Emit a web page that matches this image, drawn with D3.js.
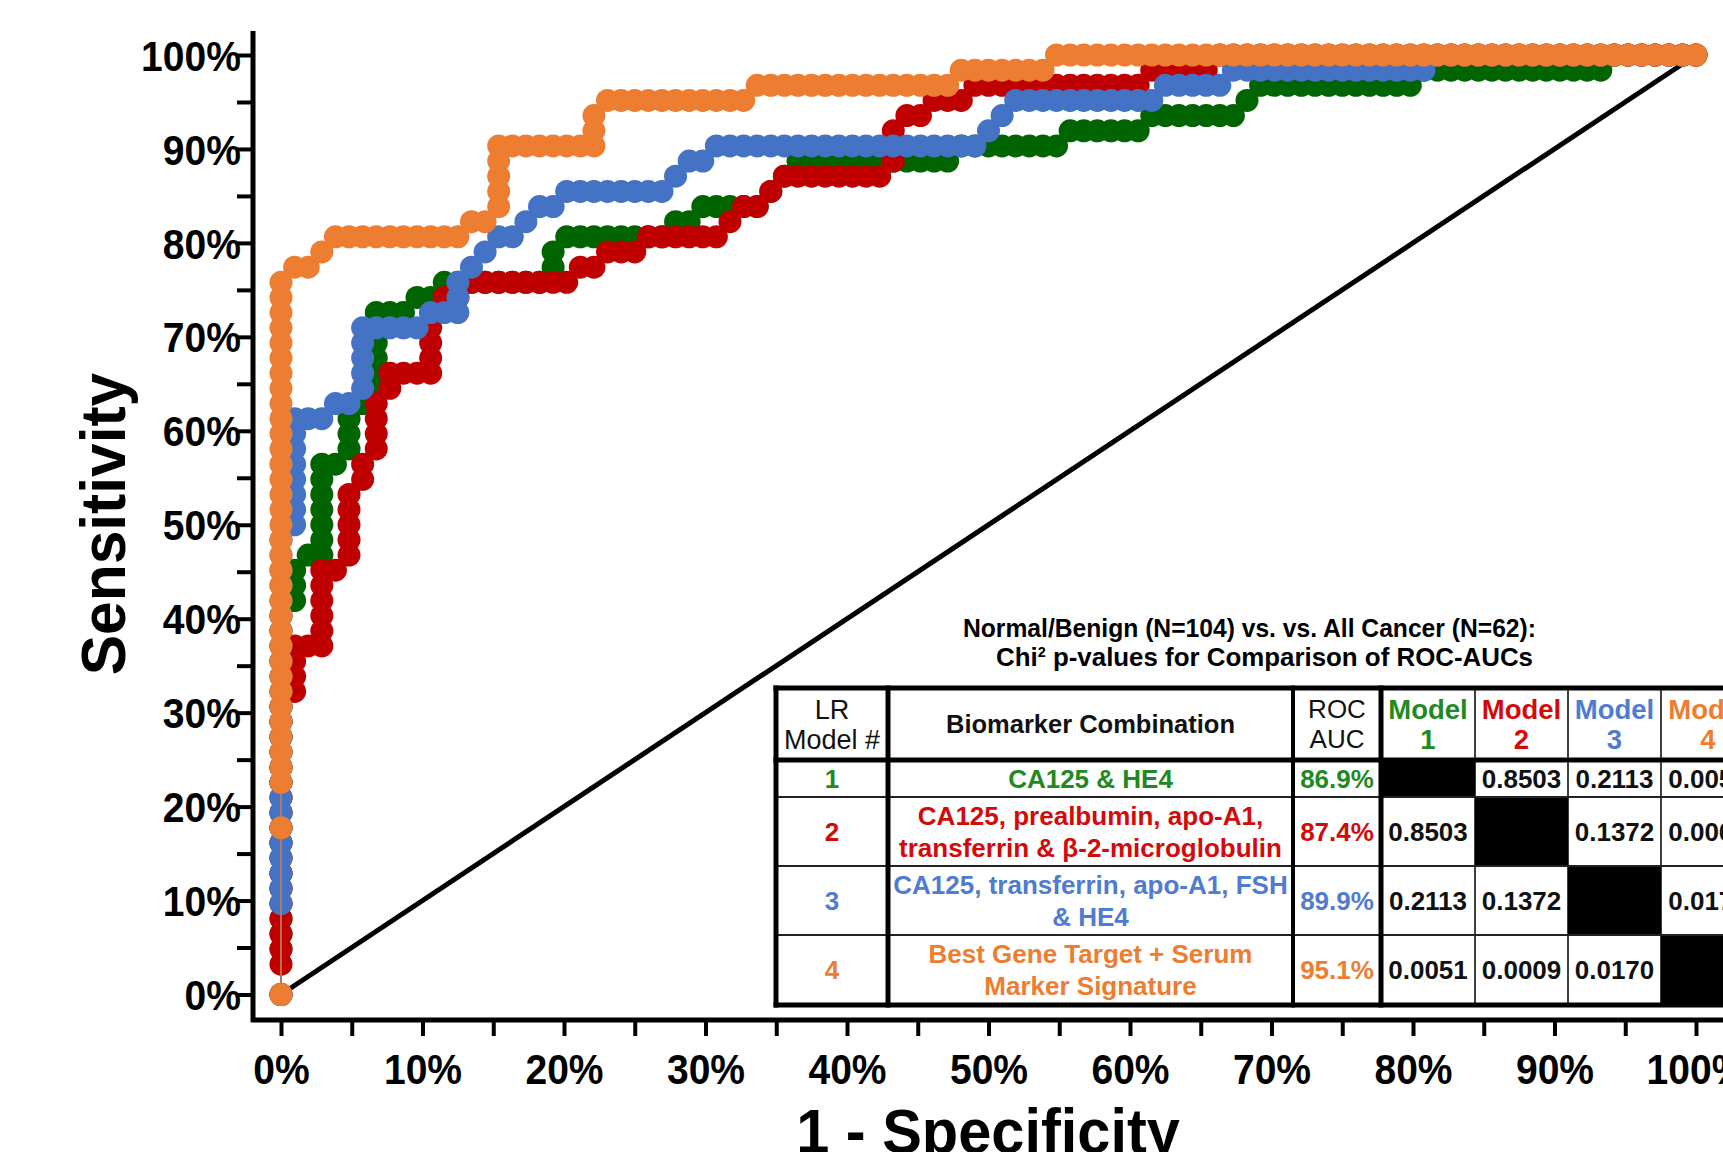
<!DOCTYPE html>
<html>
<head>
<meta charset="utf-8">
<script src="https://cdn.jsdelivr.net/npm/d3@7"></script>
<style>
  body { margin: 0; background: #fff; }
  svg text { font-family: "Liberation Sans", Arial, sans-serif; }
</style>
</head>
<body>
<svg id="chart"></svg>
<script>
// case counts behind the ROC steps
var nNegative = 104; // Normal/Benign
var nPositive = 62;  // All Cancer

// axis ticks (percent)
var tickValues = [0, 5, 10, 15, 20, 25, 30, 35, 40, 45, 50, 55, 60, 65, 70, 75, 80, 85, 90, 95, 100];

// ROC points as [false positives, true positives] counts
var model1Points = [
  [0,0],[0,3],[0,4],[0,5],[0,6],[0,7],[0,8],[0,9],[0,10],[0,11],[0,12],[0,13],[0,14],[0,15],[0,16],[0,17],[0,18],[0,19],[0,20],[0,21],[0,22],[0,23],[0,24],[0,25],
  [1,26],[1,27],[1,28],[2,29],[3,29],[3,30],[3,31],[3,32],[3,33],[3,34],[3,35],[4,35],[5,36],[5,37],[5,38],[6,39],
  [7,40],[7,41],[7,42],[7,43],[7,44],[7,45],[8,45],[9,45],[10,46],[11,46],[12,47],[13,47],[14,47],[15,47],[16,47],[17,47],[18,47],[19,47],
  [20,48],[20,49],[21,50],[22,50],[23,50],[24,50],[25,50],[26,50],[27,50],[28,50],[29,51],[30,51],[31,52],[32,52],[33,52],[34,52],[35,52],[36,53],[37,54],
  [38,55],[39,55],[40,55],[41,55],[42,55],[43,55],[44,55],[45,55],[46,55],[47,55],[48,55],[49,55],
  [50,56],[51,56],[52,56],[53,56],[54,56],[55,56],[56,56],[57,56],[58,57],[59,57],[60,57],[61,57],[62,57],[63,57],
  [64,58],[65,58],[66,58],[67,58],[68,58],[69,58],[70,58],[71,59],
  [72,60],[73,60],[74,60],[75,60],[76,60],[77,60],[78,60],[79,60],[80,60],[81,60],[82,60],[83,60],
  [84,61],[85,61],[86,61],[87,61],[88,61],[89,61],[90,61],[91,61],[92,61],[93,61],[94,61],[95,61],[96,61],[97,61],
  [98,62],[99,62],[100,62],[101,62],[102,62],[103,62],[104,62]
];
var model2Points = [
  [0,0],[0,2],[0,3],[0,4],[0,5],[0,6],[0,7],[0,8],[0,9],[0,10],[0,11],[0,12],[0,13],[0,14],[0,15],[0,16],[0,17],[0,18],[0,19],
  [1,20],[1,21],[1,22],[1,23],[2,23],[3,23],[3,24],[3,25],[3,26],[3,27],[3,28],[4,28],[5,29],[5,30],[5,31],[5,32],[5,33],[6,34],[6,35],
  [7,36],[7,37],[7,38],[7,39],[8,40],[8,41],[9,41],[10,41],[11,41],[11,42],[11,43],[11,44],[11,45],[12,46],[13,46],
  [14,47],[15,47],[16,47],[17,47],[18,47],[19,47],[20,47],[21,47],[22,48],[23,48],[24,49],[25,49],[26,49],
  [27,50],[28,50],[29,50],[30,50],[31,50],[32,50],[33,51],[34,52],[35,52],[36,53],
  [37,54],[38,54],[39,54],[40,54],[41,54],[42,54],[43,54],[44,54],[45,55],[45,56],[45,57],[46,58],[47,58],[48,59],[49,59],[50,59],
  [51,60],[52,60],[53,60],[54,60],[55,60],[56,60],[57,60],[58,60],[59,60],[60,60],[61,60],[62,60],[63,60],
  [64,61],[65,61],[66,61],[67,61],[68,61],
  [69,62],[70,62],[71,62],[72,62],[73,62],[74,62],[75,62],[76,62],[77,62],[78,62],[79,62],[80,62],[81,62],[82,62],[83,62],[84,62],[85,62],[86,62],
  [87,62],[88,62],[89,62],[90,62],[91,62],[92,62],[93,62],[94,62],[95,62],[96,62],[97,62],[98,62],[99,62],[100,62],[101,62],[102,62],[103,62],[104,62]
];
var model3Points = [
  [0,0],[0,6],[0,7],[0,8],[0,9],[0,10],[0,11],[0,12],[0,13],[0,14],[0,15],[0,16],[0,17],[0,18],[0,19],[0,20],[0,21],[0,22],[0,23],[0,24],[0,25],[0,26],[0,27],[0,28],[0,29],[0,30],
  [1,31],[1,32],[1,33],[1,34],[1,35],[1,36],[1,37],[1,38],[2,38],[3,38],[4,39],[5,39],
  [6,40],[6,41],[6,42],[6,43],[6,44],[7,44],[8,44],[9,44],[10,44],[11,45],[12,45],[13,45],[13,46],[13,47],[14,48],[15,49],
  [16,50],[17,50],[18,51],[19,52],[20,52],[21,53],[22,53],[23,53],[24,53],[25,53],[26,53],[27,53],[28,53],[29,54],[30,55],[31,55],
  [32,56],[33,56],[34,56],[35,56],[36,56],[37,56],[38,56],[39,56],[40,56],[41,56],[42,56],[43,56],[44,56],[45,56],[46,56],[47,56],[48,56],[49,56],[50,56],[51,56],
  [52,57],[53,58],[54,59],[55,59],[56,59],[57,59],[58,59],[59,59],[60,59],[61,59],[62,59],[63,59],[64,59],
  [65,60],[66,60],[67,60],[68,60],[69,60],
  [70,61],[71,61],[72,61],[73,61],[74,61],[75,61],[76,61],[77,61],[78,61],[79,61],[80,61],[81,61],[82,61],[83,61],[84,61],
  [85,62],[86,62],[87,62],[88,62],[89,62],[90,62],[91,62],[92,62],[93,62],[94,62],[95,62],[96,62],[97,62],[98,62],[99,62],[100,62],[101,62],[102,62],[103,62],[104,62]
];
var model4Points = [
  [0,0],[0,11],[0,14],[0,15],[0,16],[0,17],[0,18],[0,19],[0,20],[0,21],[0,22],[0,23],[0,24],[0,25],[0,26],[0,27],[0,28],[0,29],[0,30],
  [0,31],[0,32],[0,33],[0,34],[0,35],[0,36],[0,37],[0,38],[0,39],[0,40],[0,41],[0,42],[0,43],[0,44],[0,45],[0,46],[0,47],
  [1,48],[2,48],[3,49],[4,50],[5,50],[6,50],[7,50],[8,50],[9,50],[10,50],[11,50],[12,50],[13,50],[14,51],[15,51],
  [16,52],[16,53],[16,54],[16,55],[16,56],[17,56],[18,56],[19,56],[20,56],[21,56],[22,56],[23,56],[23,57],[23,58],
  [24,59],[25,59],[26,59],[27,59],[28,59],[29,59],[30,59],[31,59],[32,59],[33,59],[34,59],
  [35,60],[36,60],[37,60],[38,60],[39,60],[40,60],[41,60],[42,60],[43,60],[44,60],[45,60],[46,60],[47,60],[48,60],[49,60],
  [50,61],[51,61],[52,61],[53,61],[54,61],[55,61],[56,61],
  [57,62],[58,62],[59,62],[60,62],[61,62],[62,62],[63,62],[64,62],[65,62],[66,62],[67,62],[68,62],[69,62],[70,62],[71,62],[72,62],
  [73,62],[74,62],[75,62],[76,62],[77,62],[78,62],[79,62],[80,62],[81,62],[82,62],[83,62],[84,62],[85,62],[86,62],[87,62],[88,62],
  [89,62],[90,62],[91,62],[92,62],[93,62],[94,62],[95,62],[96,62],[97,62],[98,62],[99,62],[100,62],[101,62],[102,62],[103,62],[104,62]
];

// table contents
var modelNames = ["1", "2", "3", "4"];
var biomarkers = [
  ["CA125 & HE4"],
  ["CA125, prealbumin, apo-A1,", "transferrin & \u03b2-2-microglobulin"],
  ["CA125, transferrin, apo-A1, FSH", "& HE4"],
  ["Best Gene Target + Serum", "Marker Signature"]
];
var rocAuc = ["86.9%", "87.4%", "89.9%", "95.1%"];
var pValues = [
  [null, "0.8503", "0.2113", "0.0051"],
  ["0.8503", null, "0.1372", "0.0009"],
  ["0.2113", "0.1372", null, "0.0170"],
  ["0.0051", "0.0009", "0.0170", null]
];

var lineColors = ["#006400", "#c00000", "#4472c4", "#ed7d31"];
var textColors = ["#1f8a1f", "#d20a0a", "#4f7bd0", "#ed7d31"];

var W = 1723, H = 1152;
var svg = d3.select("#chart").attr("width", W).attr("height", H);

var x = d3.scaleLinear().domain([0, 100]).range([281, 1696]);
var y = d3.scaleLinear().domain([0, 100]).range([994.5, 55]);

// chance line
svg.append("line")
  .attr("x1", x(0)).attr("y1", y(0))
  .attr("x2", x(100)).attr("y2", y(100))
  .attr("stroke", "#000")
  .attr("stroke-width", 5);

// ROC curves, model 1 at the bottom, model 4 on top
var series = [model1Points, model2Points, model3Points, model4Points];
var line = d3.line()
  .x(function(d) { return x(d[0]); })
  .y(function(d) { return y(d[1]); });

series.forEach(function(pts, i) {
  var pct = pts.map(function(p) { return [p[0] / nNegative * 100, p[1] / nPositive * 100]; });
  var g = svg.append("g");
  g.append("path")
    .datum(pct)
    .attr("d", line)
    .attr("fill", "none")
    .attr("stroke", lineColors[i])
    .attr("stroke-width", 1.3);
  g.selectAll("circle")
    .data(pct)
    .enter()
    .append("circle")
    .attr("cx", function(d) { return x(d[0]); })
    .attr("cy", function(d) { return y(d[1]); })
    .attr("r", 11.5)
    .attr("fill", lineColors[i]);
});

// axes
var fmt = function(d) { return d % 10 === 0 ? d + "%" : ""; };

var gy = svg.append("g")
  .attr("transform", "translate(253,0)")
  .call(d3.axisLeft(y).tickValues(tickValues).tickSize(16).tickFormat(fmt));
gy.select(".domain").remove();
gy.selectAll(".tick line").attr("stroke", "#000").attr("stroke-width", 4);
gy.selectAll(".tick text")
  .attr("x", -13)
  .attr("dy", "0.36em")
  .attr("transform", "scale(0.93,1)")
  .attr("fill", "#000")
  .style("font-size", "42px")
  .style("font-weight", "bold")
  .style("font-family", "'Liberation Sans', Arial, sans-serif");

var gx = svg.append("g")
  .attr("transform", "translate(0,1020)")
  .call(d3.axisBottom(x).tickValues(tickValues).tickSize(16).tickFormat(fmt));
gx.select(".domain").remove();
gx.selectAll(".tick line").attr("stroke", "#000").attr("stroke-width", 4);
gx.selectAll(".tick text")
  .attr("y", 34)
  .attr("dy", "0.71em")
  .attr("transform", "scale(0.93,1)")
  .attr("fill", "#000")
  .style("font-size", "42px")
  .style("font-weight", "bold")
  .style("font-family", "'Liberation Sans', Arial, sans-serif");

svg.append("line").attr("x1", 253).attr("y1", 31).attr("x2", 253).attr("y2", 1022)
  .attr("stroke", "#000").attr("stroke-width", 5);
svg.append("line").attr("x1", 251).attr("y1", 1020).attr("x2", W + 10).attr("y2", 1020)
  .attr("stroke", "#000").attr("stroke-width", 5);

// axis titles
svg.append("text")
  .attr("transform", "translate(125,524) rotate(-90) scale(0.96,1)")
  .attr("text-anchor", "middle")
  .style("font-size", "63px")
  .style("font-weight", "bold")
  .text("Sensitivity");

svg.append("text")
  .attr("transform", "translate(988,1153) scale(0.96,1)")
  .attr("text-anchor", "middle")
  .style("font-size", "62px")
  .style("font-weight", "bold")
  .text("1 - Specificity");

// comparison table
var tLeft = 776, tTop = 688;
var colW = [112, 405, 88, 94, 93, 93, 94];
var rowH = [72, 37, 69, 69, 70];
var colX = [tLeft];
colW.forEach(function(w, i) { colX.push(colX[i] + w); });
var rowY = [tTop];
rowH.forEach(function(h, i) { rowY.push(rowY[i] + h); });

var title = svg.append("g").style("font-size", "25px").style("font-weight", "bold");
title.append("text")
  .attr("x", 963).attr("y", 637)
  .attr("textLength", 573).attr("lengthAdjust", "spacingAndGlyphs")
  .text("Normal/Benign (N=104) vs. vs. All Cancer (N=62):");
var t2 = title.append("text")
  .attr("x", 996).attr("y", 666)
  .attr("textLength", 537).attr("lengthAdjust", "spacingAndGlyphs");
t2.append("tspan").text("Chi");
t2.append("tspan").attr("dy", -9).style("font-size", "14px").text("2");
t2.append("tspan").attr("dy", 9).text(" p-values for Comparison of ROC-AUCs");

var tbl = svg.append("g");
tbl.append("rect")
  .attr("x", colX[0]).attr("y", rowY[0])
  .attr("width", colX[7] - colX[0]).attr("height", rowY[5] - rowY[0])
  .attr("fill", "#fff");

// black diagonal cells
modelNames.forEach(function(m, i) {
  tbl.append("rect")
    .attr("x", colX[3 + i]).attr("y", rowY[1 + i])
    .attr("width", colW[3 + i]).attr("height", rowH[1 + i])
    .attr("fill", "#000");
});

// thin rules
[4, 5, 6].forEach(function(c) {
  tbl.append("line").attr("x1", colX[c]).attr("x2", colX[c])
    .attr("y1", rowY[0]).attr("y2", rowY[5])
    .attr("stroke", "#000").attr("stroke-width", 1.5);
});
[2, 3, 4].forEach(function(r) {
  tbl.append("line").attr("x1", colX[0]).attr("x2", colX[7])
    .attr("y1", rowY[r]).attr("y2", rowY[r])
    .attr("stroke", "#222").attr("stroke-width", 1.8);
});
// thick rules
[[0, 5], [1, 5], [2, 4], [3, 5], [7, 5]].forEach(function(c) {
  tbl.append("line").attr("x1", colX[c[0]]).attr("x2", colX[c[0]])
    .attr("y1", rowY[0] - 2.5).attr("y2", rowY[5] + 2.5)
    .attr("stroke", "#000").attr("stroke-width", c[1]);
});
[0, 1, 5].forEach(function(r) {
  tbl.append("line").attr("x1", colX[0] - 2.5).attr("x2", colX[7] + 2.5)
    .attr("y1", rowY[r]).attr("y2", rowY[r])
    .attr("stroke", "#000").attr("stroke-width", 5);
});

function cellText(col, row, lines, opts) {
  var cx = (colX[col] + colX[col + 1]) / 2;
  var cy = (rowY[row] + rowY[row + 1]) / 2;
  var maxW = colW[col] - 6;
  lines.forEach(function(s, k) {
    var t = tbl.append("text")
      .attr("x", cx)
      .attr("y", cy + (k - (lines.length - 1) / 2) * opts.lh)
      .attr("dy", "0.36em")
      .attr("text-anchor", "middle")
      .attr("fill", opts.color)
      .style("font-size", opts.size + "px")
      .style("font-weight", opts.weight)
      .text(s);
    if (t.node().getComputedTextLength() > maxW) {
      t.attr("textLength", maxW).attr("lengthAdjust", "spacingAndGlyphs");
    }
  });
}

var head = { color: "#111", size: 26, weight: "normal", lh: 30 };
cellText(0, 0, ["LR", "Model #"], { color: "#111", size: 27, weight: "normal", lh: 30 });
cellText(1, 0, ["Biomarker Combination"], { color: "#111", size: 25.5, weight: "bold", lh: 30 });
cellText(2, 0, ["ROC", "AUC"], head);
modelNames.forEach(function(m, i) {
  cellText(3 + i, 0, ["Model", m], { color: textColors[i], size: 27.5, weight: "bold", lh: 30 });
});

modelNames.forEach(function(m, i) {
  var o = { color: textColors[i], size: 26, weight: "bold", lh: 32 };
  cellText(0, 1 + i, [m], o);
  cellText(1, 1 + i, biomarkers[i], o);
  cellText(2, 1 + i, [rocAuc[i]], o);
  pValues[i].forEach(function(p, j) {
    if (p) cellText(3 + j, 1 + i, [p], { color: "#111", size: 26, weight: "bold", lh: 32 });
  });
});
</script>
</body>
</html>
